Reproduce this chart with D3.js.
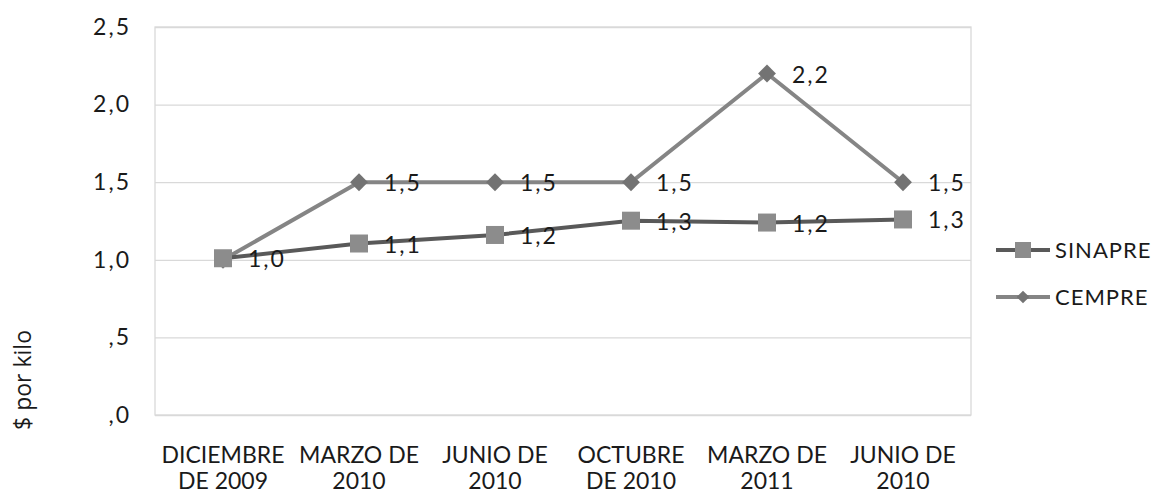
<!DOCTYPE html>
<meta charset="utf-8">
<script src="https://d3js.org/d3.v7.min.js"></script>
<style>
  body { margin: 0; background: #fff; }
  text { font-family: Lato, "Open Sans", sans-serif; fill: #1a1a1a; }
</style>
<body>
<div id="chart"></div>
<script>
// chart values
var periods = [
  ["DICIEMBRE", "DE 2009"],
  ["MARZO DE", "2010"],
  ["JUNIO DE", "2010"],
  ["OCTUBRE", "DE 2010"],
  ["MARZO DE", "2011"],
  ["JUNIO DE", "2010"]
];
var sinapre = [1.01, 1.105, 1.16, 1.252, 1.24, 1.26];
var cempre = [1.0, 1.5, 1.5, 1.5, 2.2, 1.5];
var yTicks = [0, 0.5, 1.0, 1.5, 2.0, 2.5];
var seriesNames = ["SINAPRE", "CEMPRE"];
var yTitle = "$ por kilo";

(function() {
  var W = 1153, H = 495;
  var left = 155, right = 971, top = 27, bottom = 415;

  var svg = d3.select("#chart").append("svg")
    .attr("width", W).attr("height", H);

  var x = d3.scalePoint()
    .domain(d3.range(periods.length))
    .range([left, right])
    .padding(0.5);

  var y = d3.scaleLinear()
    .domain([0, 2.5])
    .range([bottom, top]);

  var fmt = function(v) {
    var s = d3.format(".1f")(v).replace(".", ",");
    return s.charAt(0) === "0" ? s.slice(1) : s;
  };

  // gridlines + y labels
  var yAxis = svg.append("g")
    .attr("transform", "translate(" + left + ",0)")
    .call(d3.axisLeft(y).tickValues(yTicks).tickFormat(fmt)
      .tickSize(-(right - left)).tickPadding(24));
  yAxis.select(".domain").remove();
  yAxis.selectAll(".tick line").attr("stroke", "#d9d9d9").attr("stroke-width", 1.3);
  yAxis.selectAll(".tick text")
    .attr("font-size", 23).attr("fill", "#1a1a1a")
    .style("font-family", "Lato, sans-serif")
    .attr("letter-spacing", 2);

  // plot frame
  svg.append("rect")
    .attr("x", left).attr("y", top)
    .attr("width", right - left).attr("height", bottom - top)
    .attr("fill", "none").attr("stroke", "#d9d9d9").attr("stroke-width", 1.3);

  // x labels
  var xl = svg.append("g").selectAll("text").data(periods).enter().append("text")
    .attr("x", function(d, i) { return x(i); })
    .attr("text-anchor", "middle")
    .attr("font-size", 23);
  xl.append("tspan").attr("x", function(d, i) { return x(i); }).attr("y", 463)
    .text(function(d) { return d[0]; });
  xl.append("tspan").attr("x", function(d, i) { return x(i); }).attr("y", 489)
    .text(function(d) { return d[1]; });

  // y title
  svg.append("text")
    .attr("transform", "translate(31,380) rotate(-90)")
    .attr("text-anchor", "middle")
    .attr("font-size", 23)
    .style("font-family", "'Open Sans', sans-serif")
    .text(yTitle);

  var line = d3.line()
    .x(function(d, i) { return x(i); })
    .y(function(d) { return y(d); });

  svg.append("path").datum(cempre)
    .attr("d", line).attr("fill", "none")
    .attr("stroke", "#858585").attr("stroke-width", 4);
  svg.append("path").datum(sinapre)
    .attr("d", line).attr("fill", "none")
    .attr("stroke", "#595959").attr("stroke-width", 4);

  var diamond = d3.symbol().type(d3.symbolSquare).size(160);

  svg.append("g").selectAll("path").data(cempre).enter().append("path")
    .attr("d", diamond)
    .attr("transform", function(d, i) {
      return "translate(" + x(i) + "," + y(d) + ") rotate(45)";
    })
    .attr("fill", "#737373");

  svg.append("g").selectAll("rect").data(sinapre).enter().append("rect")
    .attr("x", function(d, i) { return x(i) - 9; })
    .attr("y", function(d) { return y(d) - 9; })
    .attr("width", 18).attr("height", 18)
    .attr("fill", "#8c8c8c");

  // data labels (the first CEMPRE label sits under the SINAPRE one)
  function labels(data, skipFirst) {
    var pts = data.map(function(v, i) { return {v: v, i: i}; })
      .filter(function(p) { return !(skipFirst && p.i === 0); });
    svg.append("g").selectAll("text").data(pts).enter()
      .append("text")
      .attr("x", function(p) { return x(p.i) + 25; })
      .attr("y", function(p) { return y(p.v) + 9; })
      .attr("font-size", 23)
      .attr("letter-spacing", 2)
      .text(function(p) { return fmt(p.v); });
  }
  labels(sinapre, false);
  labels(cempre, true);

  // legend
  var leg = svg.append("g");
  var ly = [250, 297];
  leg.append("line").attr("x1", 996).attr("x2", 1050).attr("y1", ly[0]).attr("y2", ly[0])
    .attr("stroke", "#595959").attr("stroke-width", 4);
  leg.append("rect").attr("x", 1015).attr("y", ly[0] - 8).attr("width", 16).attr("height", 16)
    .attr("fill", "#8c8c8c");
  leg.append("line").attr("x1", 996).attr("x2", 1050).attr("y1", ly[1]).attr("y2", ly[1])
    .attr("stroke", "#858585").attr("stroke-width", 4);
  leg.append("path").attr("d", d3.symbol().type(d3.symbolSquare).size(80))
    .attr("transform", "translate(1023," + ly[1] + ") rotate(45)")
    .attr("fill", "#737373");
  leg.selectAll("text.l").data(seriesNames).enter().append("text")
    .attr("x", 1055).attr("y", function(d, i) { return ly[i] + 8; })
    .attr("font-size", 22)
    .attr("letter-spacing", 1)
    .text(function(d) { return d; });
})();
</script>
</body>
